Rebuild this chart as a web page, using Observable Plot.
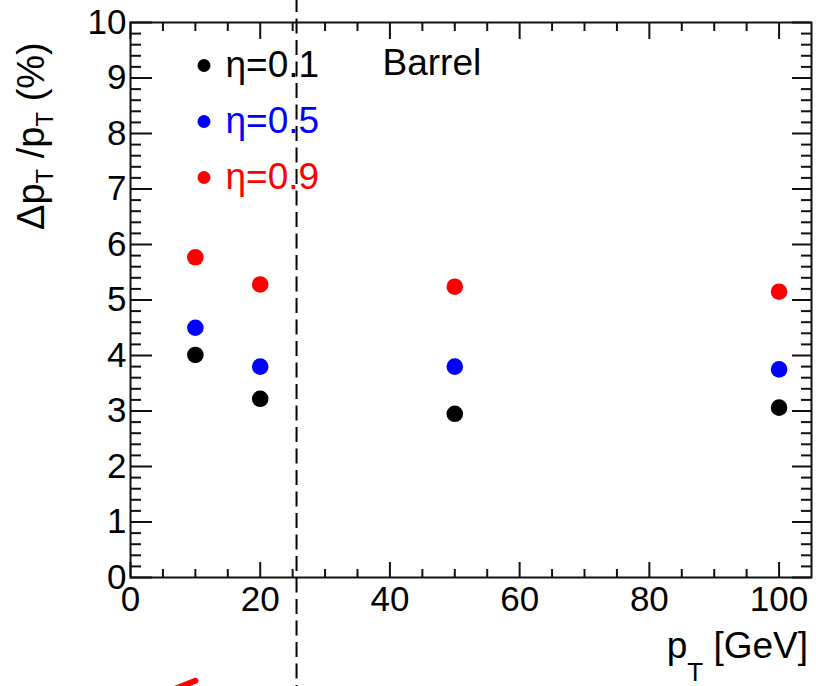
<!DOCTYPE html>
<html><head><meta charset="utf-8">
<script src="https://cdn.jsdelivr.net/npm/d3@7"></script>
<script src="https://cdn.jsdelivr.net/npm/@observablehq/plot@0.6"></script>
<style>body{margin:0;background:#fff} svg{display:block}</style>
</head><body><div id="chart"></div>
<script>
// ---- data ----
const pt = [10, 20, 50, 100];
const eta01 = [4.01, 3.22, 2.95, 3.06];
const eta05 = [4.50, 3.80, 3.80, 3.75];
const eta09 = [5.77, 5.28, 5.24, 5.15];
const seriesNames = ["η=0.1", "η=0.5", "η=0.9"];
const seriesColors = ["#000000", "#0000ff", "#ff0000"];
const regionLabel = "Barrel";
const xTickLabels = [0, 20, 40, 60, 80, 100];
const yTickLabels = [0, 1, 2, 3, 4, 5, 6, 7, 8, 9, 10];
const cutX = 25.6;                 // dashed vertical line position (GeV)
const arrowX = [6.15, 10.0];       // red annotation fragment
const arrowY = [-2.04, -1.86];

// ---- derived tables ----
const seriesValues = [eta01, eta05, eta09];
const points = seriesValues.flatMap((vals, s) =>
  vals.map((v, i) => ({pt: pt[i], res: v, series: seriesNames[s]})));
const xMinor = d3.range(5, 105, 5).filter(d => d % 20 !== 0);
const yMinor = d3.range(0.2, 10, 0.2).map(d => +d.toFixed(1)).filter(d => Math.abs(d - Math.round(d)) > 1e-6);

const W = 816, H = 686, mL = 130, mT = 22, mR = 5, mB = 109;
const fW = W - mL - mR, fH = H - mT - mB;
const font = "'Liberation Sans', Arial, sans-serif";
const ink = "#111";

const legendMarks = seriesNames.flatMap((n, i) => [
  Plot.dot([n], {frameAnchor: "top-left", dx: 73.5, dy: 43 + 56 * i, r: 6.5, fill: seriesColors[i]}),
  Plot.text([n], {frameAnchor: "top-left", dx: 95, dy: 43 + 56 * i, text: d => d, textAnchor: "start",
    lineAnchor: "middle", fill: seriesColors[i], fontSize: 37, fontFamily: font})
]);

const svg = Plot.plot({
  width: W, height: H,
  marginLeft: mL, marginTop: mT, marginRight: mR, marginBottom: mB,
  style: {fontFamily: font, background: "#fff"},
  x: {domain: [0, 105], label: null},
  y: {domain: [0, 10], label: null},
  color: {domain: seriesNames, range: seriesColors},
  marks: [
    Plot.frame({stroke: ink, strokeWidth: 2}),
    // bottom ticks
    Plot.tickX(xTickLabels, {x: d => d, insetTop: fH - 15, stroke: ink, strokeWidth: 2}),
    Plot.tickX(xMinor, {x: d => d, insetTop: fH - 8, stroke: ink, strokeWidth: 2}),
    // top ticks
    Plot.tickX(xTickLabels, {x: d => d, insetBottom: fH - 17, stroke: ink, strokeWidth: 2}),
    Plot.tickX(xMinor, {x: d => d, insetBottom: fH - 9, stroke: ink, strokeWidth: 2}),
    // left ticks
    Plot.tickY(yTickLabels, {y: d => d, insetRight: fW - 22, stroke: ink, strokeWidth: 2}),
    Plot.tickY(yMinor, {y: d => d, insetRight: fW - 11, stroke: ink, strokeWidth: 2}),
    // right ticks
    Plot.tickY(yTickLabels, {y: d => d, insetLeft: fW - 19, stroke: ink, strokeWidth: 2}),
    Plot.tickY(yMinor, {y: d => d, insetLeft: fW - 10, stroke: ink, strokeWidth: 2}),
    Plot.axisX(xTickLabels, {tickSize: 0, tickPadding: 9, fontSize: 35, fontFamily: font, label: null, tickFormat: d => String(d)}),
    Plot.axisY(yTickLabels, {tickSize: 0, tickPadding: 4, fontSize: 35, fontFamily: font, label: null, tickFormat: d => String(d)}),
    // dashed cut line spanning the whole picture height
    Plot.ruleX([cutX], {x: d => d, y1: 10.45, y2: -2.0, stroke: "#000", strokeWidth: 2, strokeDasharray: "15,6.5"}),
    // data
    Plot.dot(points, {x: "pt", y: "res", fill: "series", r: 8.3}),
    ...legendMarks,
    Plot.text([regionLabel], {frameAnchor: "top-left", dx: 252, dy: 41, text: d => d, textAnchor: "start",
      lineAnchor: "middle", fill: "#000", fontSize: 37, fontFamily: font}),
    // red annotation fragment at bottom
    Plot.line(arrowX.map((x, i) => ({x, y: arrowY[i]})), {x: "x", y: "y", stroke: "#ff0000", strokeWidth: 6, strokeLinecap: "round"})
  ]
});

// axis titles with subscripts
const s = d3.select(svg);
const xt = s.append("text")
  .attr("x", 808).attr("y", 658).attr("text-anchor", "end")
  .attr("font-family", font).attr("font-size", 37).attr("fill", "#000");
xt.append("tspan").text("p");
xt.append("tspan").attr("font-size", 26).attr("dy", 23).text("T");
xt.append("tspan").attr("dy", -23).text(" [GeV]");

const yt = s.append("text")
  .attr("transform", "translate(44,230) rotate(-90)").attr("text-anchor", "start")
  .attr("font-family", font).attr("font-size", 38).attr("fill", "#000");
yt.append("tspan").text("Δp");
yt.append("tspan").attr("font-size", 24).attr("dy", 9).text("T");
yt.append("tspan").attr("dy", -9).text(" /p");
yt.append("tspan").attr("font-size", 24).attr("dy", 9).text("T");
yt.append("tspan").attr("dy", -9).text(" (%)");

document.getElementById("chart").appendChild(svg);
</script>
</body></html>
